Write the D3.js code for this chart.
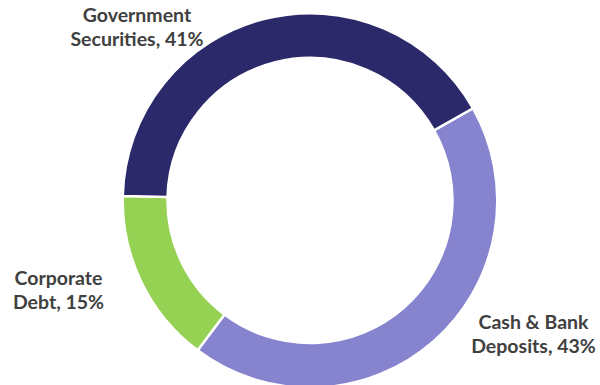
<!DOCTYPE html>
<html>
<head>
<meta charset="utf-8">
<script src="https://cdn.jsdelivr.net/npm/d3@7"></script>
<style>
  body { margin: 0; background: #fff; }
  svg { display: block; }
</style>
</head>
<body>
<svg id="chart" width="600" height="385"></svg>
<script>
// chart data
const categories = ["Cash & Bank Deposits", "Corporate Debt", "Government Securities"];
const shares = [43, 15, 41];
const labelLines = [["Cash & Bank", "Deposits, 43%"], ["Corporate", "Debt, 15%"], ["Government", "Securities, 41%"]];
const colors = ["#8683cf", "#95d152", "#2c296a"];

const svg = d3.select("#chart");
const cx = 310, cy = 200.5;
const outerR = 187.3, innerR = 142.5;

const pie = d3.pie()
    .sort(null)
    .value(d => d)
    .startAngle(60.5 * Math.PI / 180)
    .endAngle(60.5 * Math.PI / 180 + 2 * Math.PI);

const arc = d3.arc().innerRadius(innerR).outerRadius(outerR);

const g = svg.append("g").attr("transform", `translate(${cx},${cy})`);

g.selectAll("path")
    .data(pie(shares))
    .join("path")
    .attr("d", arc)
    .attr("fill", (d, i) => colors[i])
    .attr("stroke", "#fff")
    .attr("stroke-width", 2.5);

// label positions (first baseline, centred)
const labelPos = [[533.5, 329], [58.5, 285], [137, 22]];

labelLines.forEach((lines, i) => {
    const t = svg.append("text")
        .attr("x", labelPos[i][0])
        .attr("y", labelPos[i][1])
        .attr("text-anchor", "middle")
        .attr("font-family", "Lato, sans-serif")
        .attr("font-weight", "bold")
        .attr("font-size", 19.5)
        .attr("fill", "#404040");
    lines.forEach((line, j) => {
        t.append("tspan")
            .attr("x", labelPos[i][0])
            .attr("dy", j === 0 ? 0 : 23.5)
            .text(line);
    });
});
</script>
</body>
</html>
